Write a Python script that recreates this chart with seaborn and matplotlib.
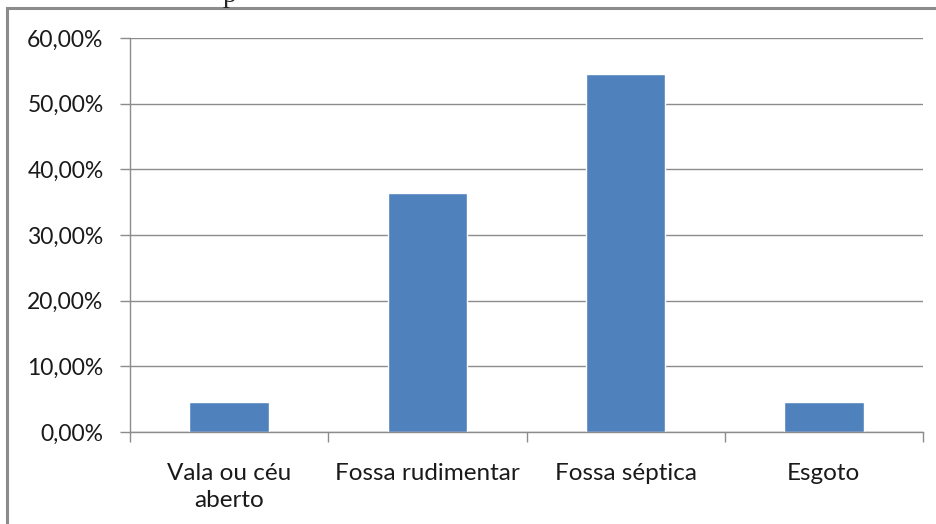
import matplotlib
matplotlib.use("Agg")
import matplotlib.pyplot as plt
import seaborn as sns
import pandas as pd
from matplotlib.ticker import FixedLocator, FuncFormatter
from matplotlib.patches import Rectangle

categories = ["Vala ou céu\naberto", "Fossa rudimentar", "Fossa séptica", "Esgoto"]
values = [4.55, 36.36, 54.55, 4.55]
yticks = [0, 10, 20, 30, 40, 50, 60]

sns.set_theme(style="white")
plt.rcParams['font.family'] = ['Lato', 'DejaVu Sans']

df = pd.DataFrame({"cat": categories, "val": values})

fig = plt.figure(figsize=(9.37, 5.24), dpi=100)
W, H = 937, 524
ax = fig.add_axes([130 / W, 1 - 432 / H, (923 - 130) / W, (432 - 38) / H])

sns.barplot(data=df, x="cat", y="val", color="#4F81BD", saturation=1, width=0.4, ax=ax)

grid_c = "#8C8C8C"
ax.set_ylim(0, 60)
ax.set_xlim(-0.5, 3.5)
ax.set_yticks(yticks)
ax.yaxis.set_major_formatter(FuncFormatter(lambda v, p: f"{v:.2f}".replace(".", ",") + "%"))
ax.yaxis.grid(True, color=grid_c, linewidth=1)
ax.set_axisbelow(True)
ax.set_xlabel("")
ax.set_ylabel("")

for s in ["top", "right"]:
    ax.spines[s].set_visible(False)
for s in ["left", "bottom"]:
    ax.spines[s].set_color(grid_c)
    ax.spines[s].set_linewidth(1)

ax.tick_params(axis="y", which="major", left=True, length=7, color=grid_c, width=1,
               labelsize=16.5, labelcolor="#1a1a1a", pad=12)
ax.tick_params(axis="x", which="major", bottom=False, length=0, labelsize=17.5,
               labelcolor="#1a1a1a", pad=22)
ax.xaxis.set_minor_locator(FixedLocator([-0.5, 0.5, 1.5, 2.5, 3.5]))
ax.tick_params(axis="x", which="minor", bottom=True, length=7, color=grid_c, width=1)
for lbl in ax.get_xticklabels():
    lbl.set_linespacing(1.35)

# outer chart border (left and top visible)
fig.patches.append(Rectangle((7 / W, -0.1), 1.2, 1 - 8 / H + 0.1, transform=fig.transFigure,
                             fill=False, edgecolor="#8C8C8C", linewidth=2.2))
fig.text(223 / W, 1 + 17 / H, "p", fontsize=20, family="Liberation Serif", va="top", ha="left")

fig.savefig("out.png", dpi=100, facecolor="white")
